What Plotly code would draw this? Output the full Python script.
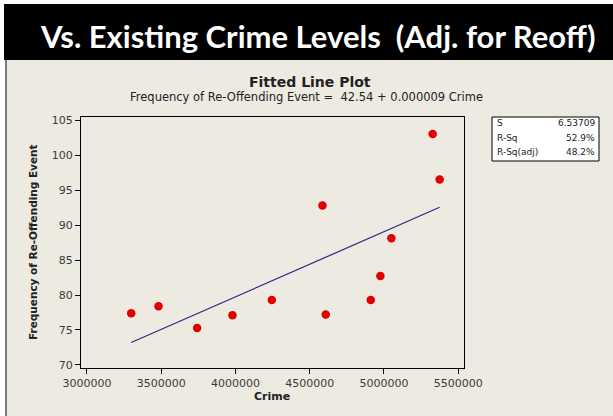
import numpy as np
import plotly.graph_objects as go

# Observations: recorded crime vs frequency of re-offending event
crime = [3298000, 3482000, 3742000, 3980000, 4245000, 4586000,
         4608000, 4911000, 4976000, 5050000, 5328000, 5375000]
reoffend = [77.4, 78.4, 75.3, 77.1, 79.3, 92.8,
            77.2, 79.3, 82.7, 88.1, 103.0, 96.5]

# Regression summary
intercept = 42.54
slope = 0.0000093
stat_names = ["S", "R-Sq", "R-Sq(adj)"]
stat_values = ["6.53709", "52.9%", "48.2%"]

x_ticks = [3000000, 3500000, 4000000, 4500000, 5000000, 5500000]
y_ticks = [70, 75, 80, 85, 90, 95, 100, 105]

W, H = 613, 416
L, R, T, B = 81, 464, 117, 368


def px(x):
    return (x - L) / (R - L)


def py(y):
    return (B - y) / (B - T)


fit_x = np.array([min(crime), max(crime)])
fit_y = intercept + slope * fit_x

fig = go.Figure()
fig.add_trace(go.Scatter(
    x=fit_x, y=fit_y, mode="lines",
    line=dict(color="#2a2a86", width=1.2), hoverinfo="skip"))
fig.add_trace(go.Scatter(
    x=crime, y=reoffend, mode="markers",
    marker=dict(color="#e00000", size=8.5, line=dict(width=0))))

BEIGE = "#edeae1"
shapes = [
    dict(type="rect", xref="paper", yref="paper", x0=px(4), x1=px(W),
         y0=py(60), y1=py(4), fillcolor="black", line=dict(width=0), layer="below"),
    dict(type="rect", xref="paper", yref="paper", x0=px(6), x1=px(W),
         y0=py(H), y1=py(60), fillcolor=BEIGE, line=dict(width=0), layer="below"),
    dict(type="line", xref="paper", yref="paper", x0=px(6), x1=px(6),
         y0=py(H), y1=py(60), line=dict(color="#505050", width=1.5)),
    # statistics box
    dict(type="rect", xref="paper", yref="paper", x0=px(492), x1=px(599),
         y0=py(161), y1=py(117), fillcolor="white",
         line=dict(color="black", width=1)),
]

annotations = [
    dict(text="Vs. Existing Crime Levels  (Adj. for Reoff)", x=px(318), y=py(36),
         font=dict(family="Lato", size=31, color="white", weight="bold")),
    dict(text="<b>Fitted Line Plot</b>", x=px(310), y=py(82),
         font=dict(family="DejaVu Sans", size=14, color="#222")),
    dict(text=f"Frequency of Re-Offending Event =  {intercept:.2f} + {slope:.6f} Crime",
         x=px(306), y=py(97),
         font=dict(family="DejaVu Sans", size=11.5, color="#222")),
    dict(text="<b>Crime</b>", x=px(272), y=py(396),
         font=dict(family="DejaVu Sans", size=11, color="#222")),
    dict(text="<b>Frequency of Re-Offending Event</b>", x=px(33), y=py(242),
         textangle=-90, font=dict(family="DejaVu Sans", size=10.5, color="#222")),
]
for i, (name, val) in enumerate(zip(stat_names, stat_values)):
    yy = py(123 + 14.5 * i)
    annotations.append(dict(text=name, x=px(495), y=yy, xanchor="left",
                            font=dict(family="DejaVu Sans", size=9, color="#222")))
    annotations.append(dict(text=val, x=px(597), y=yy, xanchor="right",
                            font=dict(family="DejaVu Sans", size=9, color="#222")))
for a in annotations:
    a.update(xref="paper", yref="paper", showarrow=False)
    a.setdefault("xanchor", "center")
    a.setdefault("yanchor", "middle")

axis_common = dict(
    showgrid=False, zeroline=False, showline=True, linecolor="black",
    linewidth=1, mirror=True, ticks="outside", ticklen=5, tickcolor="black",
    tickfont=dict(family="DejaVu Sans", size=11, color="#3a3a3a"),
)

fig.update_layout(
    width=W, height=H,
    margin=dict(l=L, r=W - R, t=T, b=H - B, autoexpand=False),
    paper_bgcolor="white", plot_bgcolor="white",
    showlegend=False,
    shapes=shapes, annotations=annotations,
    xaxis=dict(range=[2960000, 5539000], tickvals=x_ticks,
               ticktext=[str(v) for v in x_ticks], **axis_common),
    yaxis=dict(range=[69.57, 105.43], tickvals=y_ticks,
               ticktext=[str(v) for v in y_ticks], **axis_common),
)

fig.write_html("out.html")
